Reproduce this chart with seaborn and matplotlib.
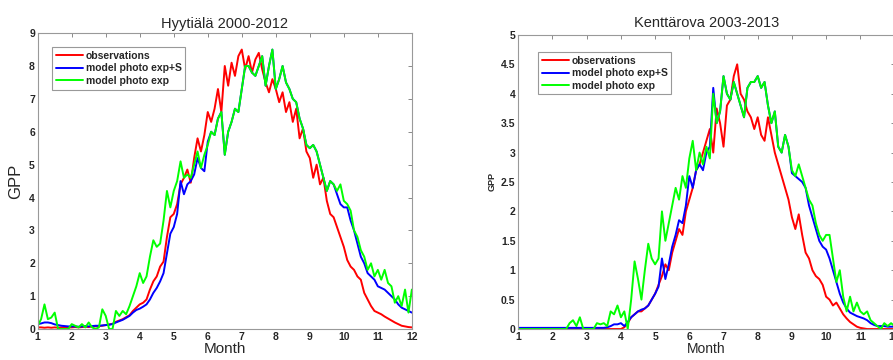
import matplotlib
matplotlib.use('Agg')
import matplotlib.pyplot as plt
import numpy as np
import pandas as pd
import seaborn as sns

sns.set_style('white')
plt.rcParams['font.family'] = ['Liberation Sans', 'DejaVu Sans']

# month grid (0.1 month steps, 1..12)
months = np.round(np.arange(1.0, 12.01, 0.1), 1)
series_names = ['observations', 'model photo exp+S', 'model photo exp']
colors = ['#ff0000', '#0000ff', '#00ff00']

# Hyytiala 2000-2012
hyy_obs = [0.05, 0.05, 0.04, 0.05, 0.04, 0.05, 0.04, 0.05, 0.06, 0.05,
           0.05, 0.06, 0.05, 0.06, 0.07, 0.06, 0.08, 0.08, 0.09, 0.10,
           0.12, 0.14, 0.16, 0.22, 0.26, 0.30, 0.36, 0.42, 0.55, 0.65,
           0.75, 0.80, 0.90, 1.20, 1.45, 1.60, 1.90, 2.05, 2.80, 3.40,
           3.50, 3.80, 4.40, 4.60, 4.85, 4.45, 5.20, 5.80, 5.40, 5.90,
           6.60, 6.30, 6.70, 7.30, 6.60, 8.00, 7.40, 8.10, 7.70, 8.30,
           8.50, 7.90, 8.30, 7.80, 8.20, 8.40, 7.90, 7.50, 7.20, 7.60,
           7.30, 6.90, 7.20, 6.60, 6.90, 6.30, 6.70, 5.80, 6.10, 5.40,
           5.20, 4.60, 5.00, 4.40, 4.60, 3.90, 3.50, 3.40, 3.10, 2.80,
           2.50, 2.10, 1.90, 1.80, 1.60, 1.50, 1.10, 0.90, 0.70, 0.55,
           0.50, 0.45, 0.38, 0.32, 0.26, 0.20, 0.15, 0.10, 0.08, 0.06,
           0.05]
hyy_exp_s = [0.15, 0.17, 0.20, 0.20, 0.18, 0.14, 0.12, 0.10, 0.09, 0.08,
             0.08, 0.08, 0.07, 0.08, 0.09, 0.08, 0.09, 0.10, 0.10, 0.11,
             0.12, 0.13, 0.15, 0.20, 0.24, 0.28, 0.34, 0.40, 0.50, 0.58,
             0.62, 0.68, 0.75, 0.90, 1.10, 1.25, 1.45, 1.70, 2.30, 2.90,
             3.10, 3.50, 4.50, 4.10, 4.40, 4.50, 4.70, 5.20, 4.90, 4.80,
             5.70, 6.00, 5.90, 6.40, 6.60, 5.30, 6.00, 6.30, 6.70, 6.60,
             7.30, 8.00, 8.00, 7.80, 7.70, 8.00, 8.30, 7.40, 8.00, 8.50,
             7.30, 7.60, 8.00, 7.50, 7.30, 7.00, 6.90, 6.40, 6.10, 5.60,
             5.50, 5.60, 5.40, 5.00, 4.60, 4.20, 4.50, 4.40, 4.10, 3.80,
             3.70, 3.70, 3.30, 3.00, 2.60, 2.20, 2.00, 1.70, 1.60, 1.50,
             1.30, 1.25, 1.20, 1.10, 1.00, 0.90, 0.75, 0.65, 0.60, 0.55,
             0.50]
hyy_exp = [0.10, 0.30, 0.75, 0.30, 0.35, 0.50, 0.00, 0.00, 0.00, 0.00,
           0.15, 0.10, 0.05, 0.15, 0.05, 0.20, 0.05, 0.00, 0.05, 0.60,
           0.40, 0.00, 0.00, 0.55, 0.40, 0.55, 0.45, 0.70, 1.00, 1.30,
           1.70, 1.40, 1.60, 2.20, 2.70, 2.50, 2.60, 3.30, 4.20, 3.70,
           4.20, 4.50, 5.10, 4.60, 4.70, 4.60, 5.00, 5.40, 4.90, 5.30,
           5.60, 6.00, 5.90, 6.40, 6.60, 5.30, 6.00, 6.30, 6.70, 6.60,
           7.30, 8.00, 8.00, 7.80, 7.70, 8.00, 8.30, 7.40, 8.00, 8.50,
           7.30, 7.60, 8.00, 7.50, 7.30, 7.00, 6.90, 6.40, 6.10, 5.60,
           5.50, 5.60, 5.40, 5.00, 4.60, 4.20, 4.50, 4.40, 4.20, 4.40,
           3.90, 3.80, 3.60, 3.00, 2.80, 2.40, 2.20, 1.80, 2.00, 1.60,
           1.80, 1.50, 1.80, 1.40, 1.30, 0.80, 1.00, 0.70, 1.20, 0.50,
           1.20]

# Kenttarova 2003-2013
ken_obs = [0.00, 0.00, 0.00, 0.00, 0.00, 0.00, 0.00, 0.00, 0.00, 0.00,
           0.00, 0.00, 0.00, 0.00, 0.00, 0.00, 0.00, 0.00, 0.00, 0.00,
           0.00, 0.00, 0.00, 0.00, 0.00, 0.00, 0.00, 0.00, 0.00, 0.00,
           0.00, 0.03, 0.10, 0.20, 0.25, 0.30, 0.30, 0.35, 0.40, 0.50,
           0.60, 0.75, 0.90, 1.10, 1.00, 1.30, 1.50, 1.70, 1.60, 2.00,
           2.20, 2.40, 2.70, 2.80, 3.00, 3.20, 3.40, 3.00, 3.75, 3.50,
           3.10, 3.80, 3.90, 4.30, 4.50, 4.00, 3.90, 3.70, 3.60, 3.40,
           3.60, 3.30, 3.20, 3.60, 3.30, 3.00, 2.80, 2.60, 2.40, 2.20,
           1.90, 1.70, 1.95, 1.60, 1.30, 1.20, 1.00, 0.90, 0.85, 0.75,
           0.55, 0.50, 0.40, 0.45, 0.35, 0.25, 0.18, 0.12, 0.08, 0.04,
           0.02, 0.01, 0.00, 0.00, 0.00, 0.00, 0.00, 0.00, 0.00, 0.00,
           0.00]
ken_exp_s = [0.02, 0.02, 0.02, 0.02, 0.02, 0.02, 0.02, 0.02, 0.02, 0.02,
             0.02, 0.02, 0.02, 0.02, 0.02, 0.02, 0.02, 0.02, 0.02, 0.02,
             0.02, 0.02, 0.02, 0.02, 0.02, 0.02, 0.03, 0.05, 0.08, 0.08,
             0.10, 0.05, 0.12, 0.20, 0.25, 0.30, 0.33, 0.35, 0.40, 0.50,
             0.60, 0.72, 1.20, 0.85, 1.10, 1.40, 1.60, 1.85, 1.80, 2.10,
             2.60, 2.40, 2.70, 2.80, 2.70, 3.00, 3.10, 4.10, 3.50, 3.70,
             4.30, 4.00, 3.90, 4.20, 4.00, 3.80, 3.60, 4.10, 4.20, 4.20,
             4.30, 4.10, 4.20, 3.80, 3.50, 3.70, 3.10, 3.00, 3.30, 3.10,
             2.65, 2.60, 2.55, 2.50, 2.40, 2.10, 1.90, 1.70, 1.50, 1.40,
             1.35, 1.20, 1.00, 0.80, 0.60, 0.45, 0.35, 0.28, 0.25, 0.22,
             0.20, 0.18, 0.15, 0.10, 0.07, 0.05, 0.05, 0.05, 0.04, 0.04,
             0.04]
ken_exp = [0.00, 0.00, 0.00, 0.00, 0.00, 0.00, 0.00, 0.00, 0.00, 0.00,
           0.00, 0.00, 0.00, 0.00, 0.00, 0.10, 0.15, 0.05, 0.20, 0.00,
           0.00, 0.00, 0.00, 0.10, 0.08, 0.10, 0.05, 0.30, 0.25, 0.40,
           0.20, 0.30, 0.00, 0.50, 1.15, 0.85, 0.50, 1.00, 1.45, 1.20,
           1.10, 1.20, 2.00, 1.50, 1.80, 2.10, 2.40, 2.20, 2.60, 2.40,
           2.90, 3.20, 2.70, 3.00, 2.80, 3.10, 2.90, 4.00, 3.50, 3.70,
           4.30, 4.00, 3.90, 4.20, 4.00, 3.80, 3.60, 4.10, 4.20, 4.20,
           4.30, 4.10, 4.20, 3.80, 3.50, 3.70, 3.10, 3.00, 3.30, 3.10,
           2.70, 2.60, 2.80, 2.60, 2.40, 2.20, 2.10, 1.80, 1.60, 1.50,
           1.60, 1.60, 1.20, 0.80, 1.00, 0.55, 0.30, 0.55, 0.30, 0.45,
           0.30, 0.25, 0.30, 0.15, 0.10, 0.05, 0.00, 0.10, 0.05, 0.10,
           0.05]


def long_df(obs, exp_s, exp):
    frames = []
    for name, vals in zip(series_names, [obs, exp_s, exp]):
        frames.append(pd.DataFrame({'Month': months, 'GPP': vals, 'series': name}))
    return pd.concat(frames, ignore_index=True)


def style_axes(ax, ymax, ystep, tick_size):
    ax.set_xlim(1, 12)
    ax.set_ylim(0, ymax)
    ax.set_xticks(range(1, 13))
    ax.set_yticks(np.arange(0, ymax + 0.001, ystep))
    ax.set_yticklabels([f'{v:g}' for v in np.arange(0, ymax + 0.001, ystep)])
    ax.tick_params(direction='in', length=3, width=0.6, color='#777777',
                   top=True, right=True, labelsize=tick_size, pad=2)
    for lab in ax.get_xticklabels() + ax.get_yticklabels():
        lab.set_fontweight('bold')
    for sp in ax.spines.values():
        sp.set_color('#999999')
        sp.set_linewidth(0.8)


fig = plt.figure(figsize=(8.93, 3.6), dpi=100)
ax1 = fig.add_axes([0.0422, 0.086, 0.419, 0.822])
ax2 = fig.add_axes([0.5804, 0.086, 0.4213, 0.817])

pal = dict(zip(series_names, colors))

sns.lineplot(data=long_df(hyy_obs, hyy_exp_s, hyy_exp), x='Month', y='GPP',
             hue='series', palette=pal, estimator=None, sort=False,
             linewidth=1.4, ax=ax1)
sns.lineplot(data=long_df(ken_obs, ken_exp_s, ken_exp), x='Month', y='GPP',
             hue='series', palette=pal, estimator=None, sort=False,
             linewidth=1.4, ax=ax2)

style_axes(ax1, 9, 1, 7.5)
style_axes(ax2, 5, 0.5, 7.5)

ax1.set_title('Hyytiälä 2000-2012', fontsize=10.5, pad=4)
ax1.set_xlabel('Month', fontsize=11, labelpad=0)
ax1.set_ylabel('GPP', fontsize=12, labelpad=4)

ax2.set_title('Kenttärova 2003-2013', fontsize=10.5, pad=6)
ax2.set_xlabel('Month', fontsize=10, labelpad=0)
ax2.set_ylabel('GPP', fontsize=6.5, fontweight='bold', labelpad=3)

for ax, anchor in [(ax1, (0.038, 0.953)), (ax2, (0.052, 0.942))]:
    leg = ax.legend(loc='upper left', bbox_to_anchor=anchor, title=None,
                    prop={'size': 7.5, 'weight': 'bold'}, fancybox=False,
                    framealpha=1, edgecolor='#999999', handlelength=2.6,
                    handletextpad=0.3, borderpad=0.35, labelspacing=0.25,
                    borderaxespad=0)
    leg.get_frame().set_linewidth(0.8)

fig.savefig('out.png', dpi=100)
